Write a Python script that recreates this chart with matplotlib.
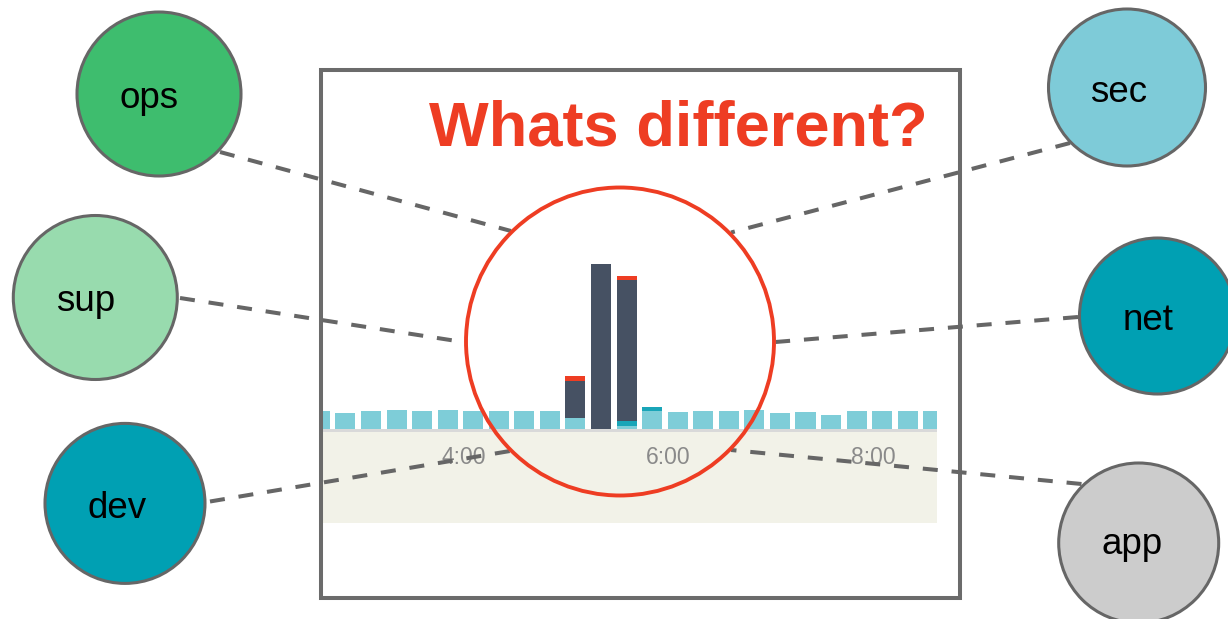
from matplotlib import pyplot as plt
from matplotlib.patches import Circle, Rectangle
import numpy as np

plt.rcParams['font.family'] = ['Liberation Sans', 'DejaVu Sans']
plt.rcParams['lines.scale_dashes'] = False

# bar start times (hours) and the stacked segments of each bar
times = np.arange(2.5, 8.51, 0.25)
light = [18.5, 15.8, 17.7, 19.0, 18.5, 18.8, 18.3, 17.7, 17.7, 18.3,
         11.3, 0, 3, 18, 17.3, 17.7, 17.7, 18.7, 16.5, 16.7, 14.3, 18.5, 17.7, 17.7, 17.7]
teal = [0] * 10 + [0, 0, 5, 4] + [0] * 11
dark = [0] * 10 + [37, 165, 141, 0] + [0] * 11
red = [0] * 10 + [5, 0, 4, 0] + [0] * 11

tick_hours = [4, 6, 8]
tick_labels = ['4:00', '6:00', '8:00']

names = ['ops', 'sup', 'dev', 'sec', 'net', 'app']
node_colors = ['#3ebd6e', '#98dbae', '#00a0b3', '#7ecbd8', '#00a0b3', '#cccccc']

# layout in pixels (figure is 1228 x 619)
node_xy = [(159, 94), (95.3, 297.5), (125, 503.4), (1127, 87.5), (1157.5, 316), (1138.7, 543)]
node_r = [82, 82, 80, 78.5, 78, 80]
label_xy = [(149, 108), (86, 311), (117.5, 518), (1119, 101.7), (1148, 330), (1132, 554)]
link_ends = [((220, 152), (511, 231)), ((180, 298), (463, 342)), ((210, 501.5), (510, 451)),
             ((1070, 143), (731, 232.5)), ((1078, 317), (775.5, 342)), ((1081.5, 484), (731, 450))]

W, H = 1228, 619
fig = plt.figure(figsize=(W / 100, H / 100), dpi=100)

# --- the little bar chart inside the frame
left, right, top, bottom = 322.7, 937, 250, 522.7
ax_b = fig.add_axes([left / W, (H - bottom) / H, (right - left) / W, (bottom - top) / H])
ax_b.set_xlim(2.618, 8.626)
ax_b.set_ylim(-(bottom - 429), 429 - top)
ax_b.axis('off')

ax_b.axhspan(-(bottom - 429), -2.5, color='#f2f2e8', lw=0, zorder=0)
ax_b.axhspan(-2.5, 0, color='#d9d9d9', lw=0, zorder=1)

xc = times + 0.09
w = 0.196
base = np.zeros(len(times))
for seg, col in [(light, '#7ecdd8'), (teal, '#19a5b8'), (dark, '#465163'), (red, '#ee3d23')]:
    seg = np.array(seg, dtype=float)
    ax_b.bar(xc, seg, width=w, bottom=base, color=col, lw=0, zorder=2)
    base += seg

for h, lab in zip(tick_hours, tick_labels):
    ax_b.text(h, -29, lab, ha='center', va='center', fontsize=16.5, color='#8a8a8a', zorder=3)

# --- overlay: frame, title, nodes, links
ax = fig.add_axes([0, 0, 1, 1])
ax.set_xlim(0, W)
ax.set_ylim(H, 0)
ax.axis('off')
ax.patch.set_alpha(0)

ax.add_patch(Rectangle((320.5, 70), 960 - 320.5, 597.5 - 70, fill=False,
                       ec='#6b6b6b', lw=2.9, zorder=1))
ax.text(678, 146, 'Whats different?', ha='center', va='baseline', fontsize=45.5,
        fontweight='bold', color='#ee3d23', zorder=5)

ax.add_patch(Circle((620, 341.5), 154, fill=False, ec='#ee3d23', lw=2.8, zorder=4))

for (p0, p1) in link_ends:
    ax.plot([p0[0], p1[0]], [p0[1], p1[1]], color='#666666', lw=2.9,
            dashes=(10.8, 10), solid_capstyle='butt', zorder=3)

for (cx, cy), r, col, (tx, ty), name in zip(node_xy, node_r, node_colors, label_xy, names):
    ax.add_patch(Circle((cx, cy), r, fc=col, ec='#666666', lw=2.2, zorder=6))
    ax.text(tx, ty, name, ha='center', va='baseline', fontsize=26.5, color='black', zorder=7)

fig.savefig('out.png', dpi=100)
